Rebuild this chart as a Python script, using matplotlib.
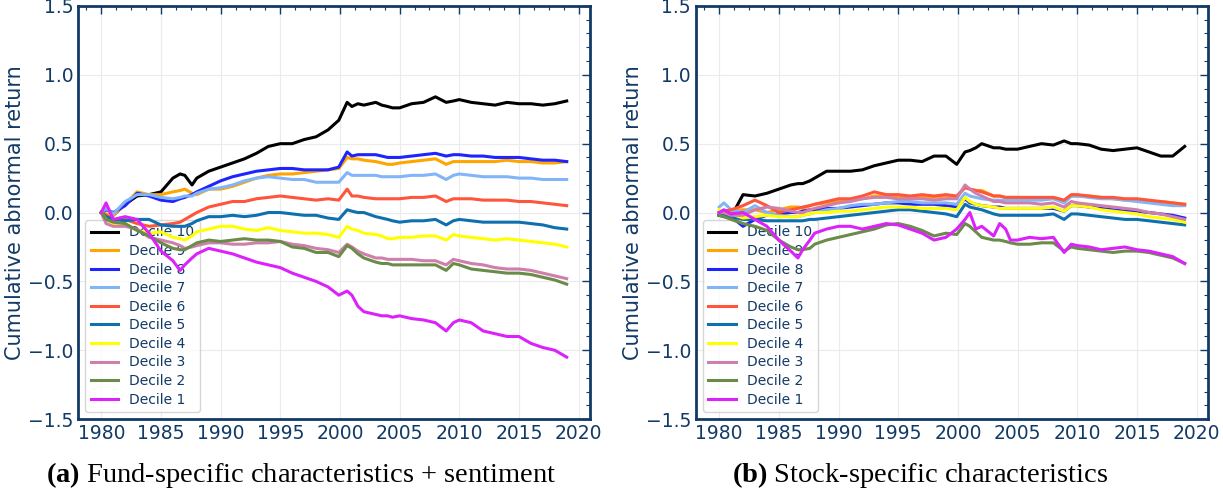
import matplotlib
matplotlib.use("Agg")
import matplotlib.pyplot as plt
from matplotlib.ticker import AutoMinorLocator, MultipleLocator

# time axis shared by every series (years)
years = [1980, 1980.4, 1981, 1982, 1983, 1984, 1985, 1986, 1986.6, 1987,
         1987.6, 1988, 1989, 1990, 1991, 1992, 1993, 1994, 1995, 1996,
         1997, 1998, 1999, 1999.9, 2000.6, 2001, 2001.5, 2002, 2003, 2003.5,
         2004, 2004.4, 2005, 2006, 2007, 2008, 2008.9, 2009.5, 2010, 2011,
         2012, 2013, 2014, 2015, 2016, 2017, 2018, 2019]

# (a) fund-specific characteristics + sentiment
fund_d10 = [0.0, -0.02, -0.02, 0.06, 0.12, 0.13, 0.15, 0.25, 0.28, 0.27,
            0.2, 0.25, 0.3, 0.33, 0.36, 0.39, 0.43, 0.48, 0.5, 0.5,
            0.53, 0.55, 0.6, 0.67, 0.8, 0.77, 0.79, 0.78, 0.8, 0.78,
            0.77, 0.76, 0.76, 0.79, 0.8, 0.84, 0.8, 0.81, 0.82, 0.8,
            0.79, 0.78, 0.8, 0.79, 0.79, 0.78, 0.79, 0.81]
fund_d9 = [0.0, -0.01, -0.02, 0.06, 0.15, 0.13, 0.13, 0.15, 0.16, 0.17,
           0.14, 0.13, 0.17, 0.17, 0.19, 0.22, 0.25, 0.27, 0.28, 0.28,
           0.29, 0.3, 0.31, 0.32, 0.4, 0.39, 0.39, 0.38, 0.37, 0.36,
           0.35, 0.35, 0.36, 0.37, 0.38, 0.39, 0.35, 0.37, 0.37, 0.37,
           0.37, 0.37, 0.38, 0.37, 0.37, 0.36, 0.36, 0.37]
fund_d8 = [0.0, 0.02, 0.0, 0.05, 0.14, 0.12, 0.09, 0.08, 0.1, 0.11,
           0.13, 0.15, 0.19, 0.23, 0.26, 0.28, 0.3, 0.31, 0.32, 0.32,
           0.31, 0.31, 0.31, 0.33, 0.44, 0.41, 0.42, 0.42, 0.42, 0.41,
           0.4, 0.4, 0.4, 0.41, 0.42, 0.43, 0.41, 0.42, 0.42, 0.41,
           0.41, 0.4, 0.4, 0.4, 0.39, 0.38, 0.38, 0.37]
fund_d7 = [0.0, 0.03, -0.01, 0.08, 0.13, 0.13, 0.11, 0.1, 0.11, 0.12,
           0.12, 0.14, 0.17, 0.18, 0.2, 0.23, 0.25, 0.26, 0.25, 0.24,
           0.24, 0.22, 0.22, 0.22, 0.29, 0.27, 0.27, 0.27, 0.27, 0.26,
           0.26, 0.26, 0.26, 0.27, 0.27, 0.28, 0.24, 0.27, 0.28, 0.27,
           0.26, 0.26, 0.26, 0.25, 0.25, 0.24, 0.24, 0.24]
fund_d6 = [0.0, -0.02, -0.05, -0.05, -0.08, -0.1, -0.09, -0.08, -0.07, -0.05,
           -0.02, 0.0, 0.04, 0.06, 0.08, 0.08, 0.1, 0.11, 0.12, 0.11,
           0.1, 0.09, 0.1, 0.09, 0.17, 0.12, 0.12, 0.11, 0.1, 0.1,
           0.1, 0.1, 0.1, 0.11, 0.11, 0.12, 0.08, 0.1, 0.1, 0.1,
           0.09, 0.09, 0.09, 0.08, 0.08, 0.07, 0.06, 0.05]
fund_d5 = [0.0, -0.03, -0.05, -0.06, -0.05, -0.05, -0.09, -0.1, -0.1, -0.1,
           -0.08, -0.06, -0.03, -0.03, -0.02, -0.03, -0.02, 0.0, 0.0, -0.01,
           -0.02, -0.02, -0.04, -0.05, 0.02, 0.01, 0.0, 0.0, -0.03, -0.04,
           -0.05, -0.06, -0.07, -0.06, -0.06, -0.05, -0.09, -0.06, -0.05, -0.06,
           -0.07, -0.07, -0.07, -0.07, -0.08, -0.09, -0.11, -0.12]
fund_d4 = [0.0, -0.05, -0.08, -0.08, -0.13, -0.15, -0.14, -0.18, -0.19, -0.2,
           -0.17, -0.14, -0.12, -0.1, -0.1, -0.12, -0.13, -0.11, -0.13, -0.14,
           -0.15, -0.15, -0.16, -0.18, -0.1, -0.12, -0.13, -0.15, -0.16, -0.17,
           -0.19, -0.19, -0.18, -0.18, -0.17, -0.17, -0.2, -0.16, -0.17, -0.18,
           -0.19, -0.2, -0.19, -0.2, -0.21, -0.22, -0.23, -0.25]
fund_d3 = [0.0, -0.08, -0.1, -0.1, -0.12, -0.18, -0.2, -0.22, -0.24, -0.26,
           -0.25, -0.24, -0.22, -0.22, -0.23, -0.23, -0.22, -0.22, -0.21, -0.23,
           -0.24, -0.26, -0.27, -0.29, -0.23, -0.25, -0.28, -0.3, -0.33, -0.33,
           -0.34, -0.34, -0.34, -0.34, -0.35, -0.35, -0.38, -0.34, -0.35, -0.37,
           -0.38, -0.4, -0.41, -0.41, -0.42, -0.44, -0.46, -0.48]
fund_d2 = [0.0, -0.05, -0.07, -0.08, -0.13, -0.17, -0.22, -0.26, -0.27, -0.27,
           -0.24, -0.22, -0.2, -0.21, -0.2, -0.19, -0.2, -0.2, -0.21, -0.25,
           -0.26, -0.29, -0.29, -0.32, -0.24, -0.26, -0.3, -0.33, -0.36, -0.37,
           -0.37, -0.38, -0.38, -0.38, -0.38, -0.38, -0.42, -0.37, -0.38, -0.41,
           -0.42, -0.43, -0.44, -0.44, -0.45, -0.47, -0.49, -0.52]
fund_d1 = [0.0, 0.07, -0.05, -0.03, -0.05, -0.15, -0.28, -0.35, -0.42, -0.38,
           -0.33, -0.3, -0.26, -0.28, -0.3, -0.33, -0.36, -0.38, -0.4, -0.44,
           -0.47, -0.5, -0.54, -0.6, -0.57, -0.6, -0.68, -0.72, -0.74, -0.75,
           -0.75, -0.76, -0.75, -0.77, -0.78, -0.8, -0.86, -0.8, -0.78, -0.8,
           -0.86, -0.88, -0.9, -0.9, -0.95, -0.98, -1.0, -1.05]

# (b) stock-specific characteristics
stock_d10 = [-0.02, -0.01, -0.03, 0.13, 0.12, 0.14, 0.17, 0.2, 0.21, 0.21,
             0.23, 0.25, 0.3, 0.3, 0.3, 0.31, 0.34, 0.36, 0.38, 0.38,
             0.37, 0.41, 0.41, 0.35, 0.44, 0.45, 0.47, 0.5, 0.47, 0.47,
             0.46, 0.46, 0.46, 0.48, 0.5, 0.49, 0.52, 0.5, 0.5, 0.49,
             0.46, 0.45, 0.46, 0.47, 0.44, 0.41, 0.41, 0.48]
stock_d9 = [0.0, 0.0, 0.01, 0.02, 0.02, 0.0, 0.02, 0.04, 0.04, 0.03,
            0.05, 0.06, 0.07, 0.08, 0.09, 0.1, 0.12, 0.12, 0.12, 0.11,
            0.11, 0.11, 0.12, 0.11, 0.19, 0.17, 0.16, 0.16, 0.12, 0.12,
            0.11, 0.11, 0.11, 0.1, 0.1, 0.11, 0.08, 0.12, 0.12, 0.12,
            0.11, 0.1, 0.09, 0.09, 0.08, 0.08, 0.07, 0.06]
stock_d8 = [-0.02, -0.03, -0.03, -0.1, -0.05, -0.02, -0.01, 0.0, 0.0, 0.01,
            0.02, 0.02, 0.03, 0.03, 0.04, 0.05, 0.06, 0.07, 0.07, 0.06,
            0.06, 0.06, 0.05, 0.04, 0.1, 0.07, 0.06, 0.05, 0.04, 0.04,
            0.03, 0.03, 0.03, 0.03, 0.03, 0.03, 0.01, 0.05, 0.05, 0.04,
            0.03, 0.02, 0.01, 0.01, 0.0, -0.01, -0.02, -0.04]
stock_d7 = [0.04, 0.07, 0.02, 0.0, 0.05, 0.0, -0.02, -0.03, -0.03, -0.02,
            -0.01, 0.0, 0.02, 0.03, 0.05, 0.06, 0.06, 0.07, 0.08, 0.08,
            0.07, 0.07, 0.07, 0.06, 0.14, 0.12, 0.11, 0.1, 0.09, 0.09,
            0.09, 0.09, 0.09, 0.09, 0.09, 0.1, 0.07, 0.12, 0.12, 0.11,
            0.1, 0.1, 0.09, 0.08, 0.07, 0.06, 0.05, 0.05]
stock_d6 = [0.0, 0.01, 0.02, 0.05, 0.09, 0.05, 0.0, 0.02, 0.03, 0.04,
            0.05, 0.06, 0.08, 0.1, 0.1, 0.12, 0.15, 0.13, 0.13, 0.12,
            0.13, 0.12, 0.13, 0.12, 0.18, 0.17, 0.16, 0.15, 0.12, 0.12,
            0.11, 0.11, 0.11, 0.11, 0.11, 0.11, 0.09, 0.13, 0.13, 0.12,
            0.11, 0.11, 0.1, 0.1, 0.09, 0.08, 0.07, 0.06]
stock_d5 = [-0.02, -0.02, -0.03, -0.05, -0.05, -0.06, -0.06, -0.06, -0.06, -0.06,
            -0.05, -0.05, -0.04, -0.03, -0.02, -0.01, 0.0, 0.01, 0.02, 0.02,
            0.01, 0.0, -0.01, -0.03, 0.06, 0.04, 0.03, 0.02, -0.01, -0.02,
            -0.02, -0.02, -0.02, -0.02, -0.02, -0.01, -0.05, -0.01, -0.01, -0.02,
            -0.03, -0.04, -0.05, -0.05, -0.06, -0.07, -0.08, -0.09]
stock_d4 = [0.02, 0.0, -0.01, -0.04, -0.03, -0.02, -0.03, -0.03, -0.03, -0.02,
            -0.01, 0.0, 0.0, 0.01, 0.01, 0.02, 0.03, 0.04, 0.04, 0.04,
            0.03, 0.03, 0.03, 0.02, 0.11, 0.08, 0.06, 0.05, 0.04, 0.03,
            0.03, 0.03, 0.03, 0.03, 0.03, 0.04, 0.01, 0.05, 0.05, 0.04,
            0.02, 0.01, 0.0, -0.01, -0.03, -0.04, -0.05, -0.07]
stock_d3 = [0.0, 0.0, -0.02, -0.02, 0.02, 0.04, 0.03, 0.01, 0.0, 0.0,
            0.02, 0.03, 0.05, 0.07, 0.08, 0.1, 0.11, 0.11, 0.1, 0.1,
            0.1, 0.09, 0.1, 0.1, 0.2, 0.17, 0.14, 0.12, 0.08, 0.08,
            0.07, 0.07, 0.07, 0.07, 0.06, 0.07, 0.04, 0.08, 0.07, 0.06,
            0.05, 0.04, 0.03, 0.02, 0.0, -0.01, -0.03, -0.05]
stock_d2 = [-0.02, -0.03, -0.05, -0.08, -0.1, -0.13, -0.2, -0.25, -0.27, -0.27,
            -0.26, -0.23, -0.2, -0.18, -0.16, -0.14, -0.12, -0.09, -0.08, -0.1,
            -0.13, -0.17, -0.15, -0.16, -0.08, -0.1, -0.14, -0.18, -0.2, -0.2,
            -0.21, -0.22, -0.23, -0.23, -0.22, -0.22, -0.28, -0.25, -0.26, -0.27,
            -0.28, -0.29, -0.28, -0.28, -0.29, -0.31, -0.33, -0.37]
stock_d1 = [0.0, 0.02, -0.01, 0.0, -0.05, -0.1, -0.2, -0.28, -0.33, -0.27,
            -0.2, -0.15, -0.12, -0.1, -0.1, -0.12, -0.1, -0.08, -0.09, -0.12,
            -0.15, -0.2, -0.18, -0.12, -0.05, 0.0, -0.12, -0.1, -0.17, -0.08,
            -0.12, -0.2, -0.2, -0.18, -0.19, -0.18, -0.29, -0.23, -0.24, -0.25,
            -0.27, -0.26, -0.25, -0.27, -0.28, -0.3, -0.32, -0.37]

labels = ["Decile 10", "Decile 9", "Decile 8", "Decile 7", "Decile 6",
          "Decile 5", "Decile 4", "Decile 3", "Decile 2", "Decile 1"]
colors = ["#000000", "#ffa500", "#1f24ff", "#82b4f8", "#ff553a",
          "#0f70b0", "#ffff00", "#cf7fab", "#6a8c48", "#dc22fa"]

fund = [fund_d10, fund_d9, fund_d8, fund_d7, fund_d6,
        fund_d5, fund_d4, fund_d3, fund_d2, fund_d1]
stock = [stock_d10, stock_d9, stock_d8, stock_d7, stock_d6,
         stock_d5, stock_d4, stock_d3, stock_d2, stock_d1]

navy = "#123a66"
plt.rcParams["mathtext.fontset"] = "custom"
plt.rcParams["mathtext.rm"] = "Liberation Serif"
plt.rcParams["mathtext.bf"] = "Liberation Serif:bold"

fig = plt.figure(figsize=(12.23, 4.96), dpi=100)
ax1 = fig.add_axes([0.0638, 0.155, 0.4186, 0.833])
ax2 = fig.add_axes([0.569, 0.155, 0.4187, 0.833])

for ax, series in [(ax1, fund), (ax2, stock)]:
    for vals, lab, c in zip(series, labels, colors):
        ax.plot(years, vals, color=c, lw=2.2, label=lab, zorder=3)
    ax.set_ylim(-1.5, 1.5)
    ax.set_xticks(range(1980, 2021, 5))
    ax.xaxis.set_minor_locator(AutoMinorLocator(4))
    ax.yaxis.set_minor_locator(MultipleLocator(0.1))
    ax.grid(True, color="#ebebeb", lw=0.8, zorder=0)
    ax.tick_params(which="both", direction="in", top=True, right=True,
                   bottom=False, left=False, colors=navy, labelsize=13.5)
    ax.tick_params(which="major", length=6, width=1)
    ax.tick_params(which="minor", length=3, width=0.8)
    for sp in ax.spines.values():
        sp.set_color(navy)
        sp.set_linewidth(2)
    ax.set_ylabel("Cumulative abnormal return", color=navy, fontsize=15,
                  labelpad=2)
    leg = ax.legend(loc="lower left", fontsize=10, labelcolor=navy,
                    labelspacing=0.33, framealpha=0.8, edgecolor="#cccccc")
    leg.set_zorder(2)

fig.text(301 / 1223, 1 - 475 / 496,
         r"$\mathbf{(a)}$ Fund-specific characteristics + sentiment",
         ha="center", va="center", fontsize=20.5, family="Liberation Serif")
fig.text(920 / 1223, 1 - 475 / 496,
         r"$\mathbf{(b)}$ Stock-specific characteristics",
         ha="center", va="center", fontsize=20.5, family="Liberation Serif")

fig.savefig("out.png", dpi=100)
